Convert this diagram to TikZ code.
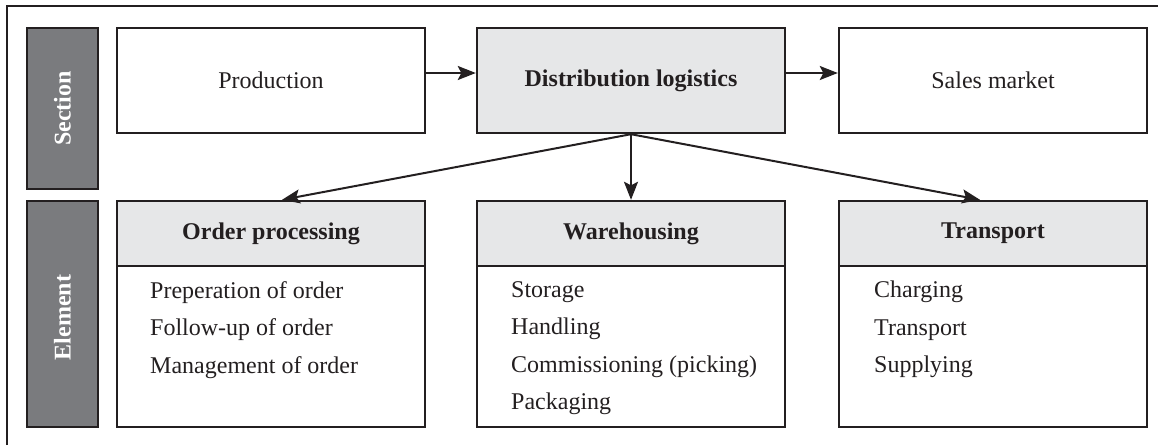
\documentclass[tikz,border=0pt]{standalone}
\usepackage{fontspec}
\setmainfont{Liberation Serif}
\usetikzlibrary{arrows.meta}
\definecolor{bargray}{RGB}{122,123,126}
\definecolor{headgray}{RGB}{230,231,232}
\definecolor{ink}{RGB}{35,31,32}
\tikzset{
  txt/.style={font=\fontsize{24}{28}\selectfont, text=ink},
  box/.style={draw=ink, line width=2.4pt, txt, inner sep=0pt},
  % rotated bars: width runs along the bar, height across it
  sidebar/.style={box, fill=bargray, minimum height=71pt, text=white,
    font=\fontsize{24}{28}\selectfont\bfseries, rotate=90},
  headbox/.style={box, fill=headgray, minimum width=308pt, minimum height=65pt,
    font=\fontsize{24}{28}\selectfont\bfseries},
  bodybox/.style={box, minimum width=308pt, minimum height=161pt},
  items/.style={txt, anchor=north west, align=left, inner sep=0pt,
    font=\fontsize{24}{37.5}\selectfont},
  link/.style={draw=ink, line width=2pt,
    -{Stealth[length=18pt,width=14pt,inset=3.5pt]}}
}
\begin{document}
\begin{tikzpicture}[x=1pt,y=-1pt]
\useasboundingbox (0,0) rectangle (1158,445);
% outer frame (top and left edges)
\draw[draw=ink, line width=1.6pt] (7,445) -- (7,6) -- (1158,6);

% side bars
\node[sidebar, minimum width=161pt] (secbar) at (62.5,108.5) {Section};
\node[sidebar, minimum width=226pt] (elbar) at (62.5,314) {};
\node[txt, white, font=\fontsize{24}{28}\selectfont\bfseries, rotate=90] (eltxt) at (62.5,317.5) {Element};

% section row
\node[box, minimum width=308pt, minimum height=105pt] (prod) at (271,80.5) {Production};
\node[box, fill=headgray, minimum width=308pt, minimum height=105pt,
      font=\fontsize{24}{28}\selectfont\bfseries] (dist) at (631,80.5) {Distribution logistics};
\node[box, minimum width=308pt, minimum height=105pt] (sales) at (993,80.5) {Sales market};

% element row: bodies
\node[bodybox] (opb) at (271,346.5) {};
\node[bodybox] (whb) at (631,346.5) {};
\node[bodybox] (trb) at (993,346.5) {};
% element row: headers
\node[headbox] (oph) at (271,233.5) {Order processing};
\node[headbox] (whh) at (631,233.5) {Warehousing};
\node[headbox] (trh) at (993,233.5) {Transport};

% element items
\node[items] (opi) at (150,281) {Preperation of order\\Follow-up of order\\Management of order};
\node[items] (whi) at (511,281) {Storage\\Handling\\Commissioning (picking)\\Packaging};
\node[items] (tri) at (874,281) {Charging\\Transport\\Supplying};

% connectors
\draw[link] ([yshift=7.5pt]prod.east) -- ([yshift=7.5pt]dist.west);
\draw[link] ([yshift=7.5pt]dist.east) -- ([yshift=7.5pt]sales.west);
\draw[link] (dist.south) -- ([xshift=11pt]oph.north);
\draw[link] (dist.south) -- (whh.north);
\draw[link] (dist.south) -- ([xshift=-13pt]trh.north);
\end{tikzpicture}
\end{document}
